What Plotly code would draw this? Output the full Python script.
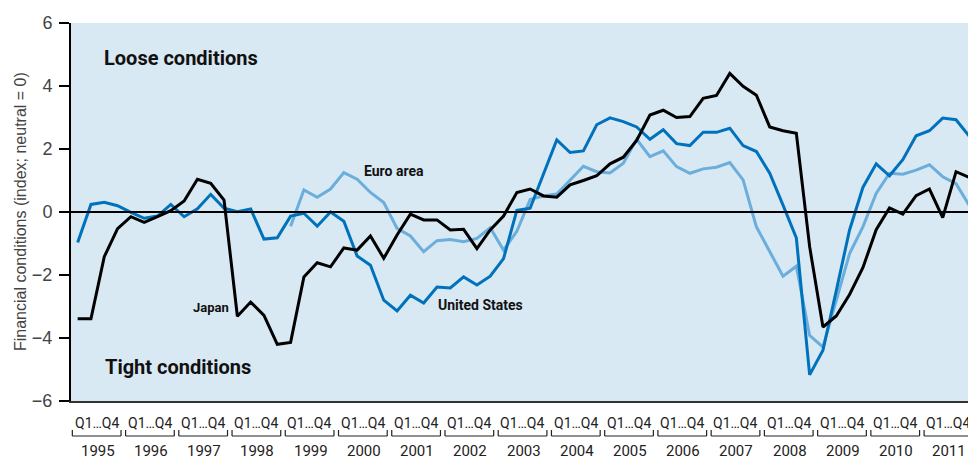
import plotly.graph_objects as go

years = list(range(1995, 2012))
quarters = [1, 2, 3, 4]

japan = [-3.39, -3.39, -1.42, -0.53, -0.15, -0.33, -0.15, 0.04,
         0.35, 1.04, 0.91, 0.38, -3.31, -2.86, -3.28, -4.20,
         -4.14, -2.06, -1.61, -1.74, -1.14, -1.21, -0.76, -1.47,
         -0.73, -0.07, -0.25, -0.25, -0.57, -0.55, -1.16, -0.57,
         -0.13, 0.62, 0.73, 0.51, 0.47, 0.86, 1.00, 1.15,
         1.53, 1.74, 2.27, 3.08, 3.23, 3.00, 3.03, 3.61,
         3.70, 4.40, 3.99, 3.71, 2.70, 2.58, 2.50, -1.10,
         -3.65, -3.30, -2.62, -1.77, -0.56, 0.13, -0.07, 0.52,
         0.73, -0.18, 1.28, 1.10]

united_states = [-0.97, 0.24, 0.31, 0.20, -0.01, -0.20, -0.13, 0.24,
                 -0.15, 0.10, 0.56, 0.12, 0.01, 0.10, -0.86, -0.82,
                 -0.13, -0.04, -0.45, 0.00, -0.29, -1.40, -1.69, -2.80,
                 -3.14, -2.64, -2.89, -2.38, -2.41, -2.06, -2.32, -2.04,
                 -1.48, 0.05, 0.12, 1.23, 2.29, 1.89, 1.94, 2.77,
                 2.99, 2.87, 2.70, 2.31, 2.61, 2.17, 2.11, 2.53,
                 2.53, 2.66, 2.11, 1.92, 1.23, 0.22, -0.82, -5.17,
                 -4.39, -2.50, -0.57, 0.78, 1.53, 1.15, 1.66, 2.42,
                 2.58, 2.98, 2.93, 2.40]

euro_area = [None] * 16 + [
    -0.45, 0.70, 0.47, 0.73, 1.25, 1.04, 0.62, 0.30,
    -0.52, -0.76, -1.26, -0.91, -0.87, -0.94, -0.84, -0.50,
    -1.21, -0.61, 0.40, 0.51, 0.57, 1.00, 1.45, 1.28,
    1.24, 1.55, 2.31, 1.76, 1.94, 1.44, 1.23, 1.37,
    1.42, 1.57, 1.02, -0.47, -1.26, -2.04, -1.72, -3.92,
    -4.29, -2.80, -1.32, -0.47, 0.59, 1.23, 1.20, 1.33,
    1.50, 1.12, 0.90, 0.20]

quarter_label = "Q1\u2026Q4"
y_title = "Financial conditions (index; neutral = 0)"

# x position of each quarter: centre of its quarter-band within the year
x = [yr + (q - 0.5) / 4 for yr in years for q in quarters]

COND = "Roboto, Liberation Sans, sans-serif"
REG = "Liberation Sans, Arial, Helvetica, sans-serif"

BLUE = "#0072BC"
LIGHT = "#6BAEDC"

fig = go.Figure()
fig.add_trace(go.Scatter(x=x, y=euro_area, mode="lines", name="Euro area",
                         line=dict(color=LIGHT, width=3), connectgaps=False))
fig.add_trace(go.Scatter(x=x, y=united_states, mode="lines", name="United States",
                         line=dict(color=BLUE, width=3)))
fig.add_trace(go.Scatter(x=x, y=japan, mode="lines", name="Japan",
                         line=dict(color="black", width=3)))

# page body has an 8px margin: compensate so the plot lands where the reference has it
BODY = 8
W, H = 976 - BODY, 459 - BODY
ML, MR, MT = 71 - BODY, 0, 23 - BODY
ph = 378
MB = H - MT - ph

def py(px_below):
    # pixel offset below plot bottom -> paper coordinate
    return -px_below / ph

shapes = [dict(type="line", xref="paper", yref="y", x0=0, x1=1, y0=0, y1=0,
               line=dict(color="black", width=2), layer="above")]
annotations = []
for yr in years:
    x0, x1 = yr + 0.025, yr + 0.94
    yb, yt = py(35), py(29)
    shapes.append(dict(type="line", xref="x", yref="paper", x0=x0, x1=x1, y0=yb, y1=yb,
                       line=dict(color="#222", width=1.2)))
    shapes.append(dict(type="line", xref="x", yref="paper", x0=x0, x1=x0, y0=yb, y1=yt,
                       line=dict(color="#222", width=1.2)))
    shapes.append(dict(type="line", xref="x", yref="paper", x0=x1, x1=x1, y0=yb, y1=yt,
                       line=dict(color="#222", width=1.2)))
    annotations.append(dict(x=yr + 0.48, y=py(22), xref="x", yref="paper",
                            text=quarter_label, showarrow=False,
                            font=dict(family=COND, size=14, color="#222"),
                            xanchor="center", yanchor="middle"))
    annotations.append(dict(x=yr + 0.5, y=py(50), xref="x", yref="paper",
                            text=str(yr), showarrow=False,
                            font=dict(family=COND, size=15, color="#222"),
                            xanchor="center", yanchor="middle"))

labels = [
    ("Loose conditions", 1995.58, 4.89, 20),
    ("Tight conditions", 1995.60, -4.92, 20),
    ("Euro area", 2000.46, 1.30, 14),
    ("United States", 2001.85, -2.94, 14),
    ("Japan", 1997.26, -3.02, 13),
]
for txt, lx, ly, fs in labels:
    annotations.append(dict(x=lx, y=ly, xref="x", yref="y", text="<b>%s</b>" % txt,
                            showarrow=False, xanchor="left", yanchor="middle",
                            font=dict(family=COND, size=fs, color="#111")))

annotations.append(dict(x=0, y=0.5, xref="paper", yref="paper", text=y_title,
                        textangle=-90, showarrow=False, xanchor="center", yanchor="middle",
                        xshift=-51, font=dict(family=REG, size=16, color="#444")))

fig.update_layout(
    width=W, height=H,
    margin=dict(l=ML, r=MR, t=MT, b=MB, pad=0),
    paper_bgcolor="white",
    plot_bgcolor="#D9E9F4",
    showlegend=False,
    shapes=shapes,
    annotations=annotations,
    xaxis=dict(range=[1995, 2012], showgrid=False, zeroline=False, showticklabels=False,
               ticks="", showline=True, linecolor="#333", linewidth=1.5, fixedrange=True),
    yaxis=dict(range=[-6, 6], dtick=2, tick0=0, showgrid=False, zeroline=False,
               showline=True, linecolor="black", linewidth=2,
               ticks="outside", ticklen=10, tickwidth=2, tickcolor="black",
               tickfont=dict(family=REG, size=18, color="#444"),
               ticklabelstandoff=3, fixedrange=True),
)

fig.write_html("out.html")
